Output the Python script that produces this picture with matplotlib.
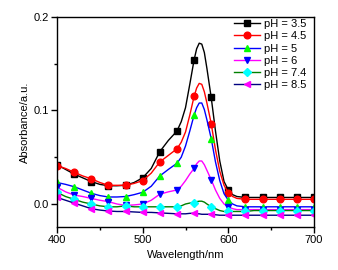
import matplotlib
matplotlib.use("Agg")
import matplotlib.pyplot as plt
from matplotlib.ticker import MultipleLocator, FormatStrFormatter

plt.rcParams['font.family'] = ['Liberation Sans', 'DejaVu Sans']

wavelength = [400, 410, 420, 430, 440, 450, 460, 470, 480, 490, 500, 510, 520, 530, 540,
              545, 550, 555, 560, 563, 566, 569, 572, 575, 580, 585, 590, 595, 600, 605, 610,
              620, 630, 640, 650, 660, 670, 680, 690, 700]

abs_ph35 = [0.042, 0.037, 0.032, 0.028, 0.024, 0.021, 0.0195, 0.0195, 0.020, 0.023, 0.028, 0.038, 0.056, 0.068, 0.078,
            0.088, 0.103, 0.128, 0.154, 0.166, 0.172, 0.171, 0.162, 0.145, 0.114, 0.078, 0.046, 0.024, 0.015, 0.010, 0.008,
            0.007, 0.007, 0.007, 0.007, 0.007, 0.007, 0.007, 0.007, 0.007]
abs_ph45 = [0.041, 0.038, 0.034, 0.030, 0.027, 0.023, 0.020, 0.020, 0.020, 0.022, 0.025, 0.033, 0.045, 0.052, 0.059,
            0.066, 0.077, 0.095, 0.115, 0.124, 0.129, 0.128, 0.120, 0.108, 0.086, 0.058, 0.035, 0.020, 0.012, 0.008, 0.006,
            0.005, 0.005, 0.005, 0.005, 0.005, 0.005, 0.005, 0.005, 0.005]
abs_ph5 = [0.023, 0.021, 0.0185, 0.015, 0.0115, 0.009, 0.0075, 0.0075, 0.008, 0.010, 0.0125, 0.019, 0.030, 0.037, 0.0435,
           0.050, 0.062, 0.078, 0.095, 0.103, 0.108, 0.108, 0.101, 0.090, 0.070, 0.045, 0.025, 0.011, 0.004, 0.000, -0.002,
           -0.003, -0.003, -0.003, -0.003, -0.003, -0.003, -0.003, -0.003, -0.003]
abs_ph6 = [0.018, 0.013, 0.0096, 0.008, 0.006, 0.004, 0.0025, 0.000, -0.0015, -0.001, 0.000, 0.004, 0.0105, 0.013, 0.015,
           0.019, 0.025, 0.032, 0.038, 0.043, 0.046, 0.046, 0.042, 0.036, 0.026, 0.015, 0.006, 0.000, -0.003, -0.005, -0.006,
           -0.006, -0.006, -0.006, -0.006, -0.006, -0.006, -0.006, -0.006, -0.006]
abs_ph74 = [0.0125, 0.008, 0.005, 0.002, 0.000, -0.002, -0.003, -0.003, -0.002, -0.003, -0.003, -0.003, -0.003, -0.003, -0.003,
            -0.002, 0.000, 0.001, 0.0015, 0.0025, 0.003, 0.003, 0.002, 0.000, -0.003, -0.005, -0.007, -0.008, -0.008, -0.008, -0.008,
            -0.008, -0.007, -0.007, -0.007, -0.007, -0.007, -0.007, -0.007, -0.007]
abs_ph85 = [0.007, 0.004, 0.001, -0.002, -0.005, -0.0065, -0.0075, -0.008, -0.008, -0.0085, -0.009, -0.009, -0.0095, -0.010, -0.0105,
            -0.0105, -0.0105, -0.010, -0.010, -0.0105, -0.0105, -0.011, -0.011, -0.011, -0.011, -0.0115, -0.012, -0.012, -0.012, -0.012, -0.012,
            -0.012, -0.012, -0.012, -0.012, -0.012, -0.012, -0.012, -0.012, -0.012]

labels = ["pH = 3.5", "pH = 4.5", "pH = 5", "pH = 6", "pH = 7.4", "pH = 8.5"]
series = [abs_ph35, abs_ph45, abs_ph5, abs_ph6, abs_ph74, abs_ph85]
line_colors = ["#000000", "#FF0000", "#0000FF", "#FF00FF", "#008000", "#000080"]
marker_colors = ["#000000", "#FF0000", "#00FF00", "#0000FF", "#00FFFF", "#FF00FF"]
markers = ["s", "o", "^", "v", "D", "<"]
msizes = [4.3, 4.8, 5.0, 5.0, 4.2, 5.0]

mark_idx = [i for i, w in enumerate(wavelength) if w % 20 == 0]

fig = plt.figure(figsize=(3.38, 2.70), dpi=100)
ax = fig.add_axes([57/338, 1-227/270, 257/338, 210/270])

for y, lab, lc, mc, mk, ms in zip(series, labels, line_colors, marker_colors, markers, msizes):
    ax.plot(wavelength, y, color=lc, lw=1.0, marker=mk, markersize=ms,
            markerfacecolor=mc, markeredgecolor=mc, markevery=mark_idx, label=lab)

ax.set_xlim(400, 700)
ax.set_ylim(-0.0246, 0.2)
ax.xaxis.set_major_locator(MultipleLocator(100))
ax.xaxis.set_minor_locator(MultipleLocator(50))
ax.yaxis.set_major_locator(MultipleLocator(0.1))
ax.yaxis.set_minor_locator(MultipleLocator(0.05))
ax.yaxis.set_major_formatter(FormatStrFormatter('%.1f'))
ax.tick_params(which='major', direction='out', length=4, width=1, labelsize=8, pad=1.5)
ax.tick_params(which='minor', direction='out', length=2.5, width=1)
for s in ax.spines.values():
    s.set_linewidth(1.0)

ax.set_xlabel("Wavelength/nm", fontsize=8, labelpad=4)
ax.set_ylabel("Absorbance/a.u.", fontsize=8, labelpad=3)

ax.legend(loc='upper left', bbox_to_anchor=(0.689, 0.99), frameon=False, fontsize=8,
          borderaxespad=0, borderpad=0, handlelength=2.35, handletextpad=0.35,
          labelspacing=0.2)

fig.savefig("out.png", dpi=100)
